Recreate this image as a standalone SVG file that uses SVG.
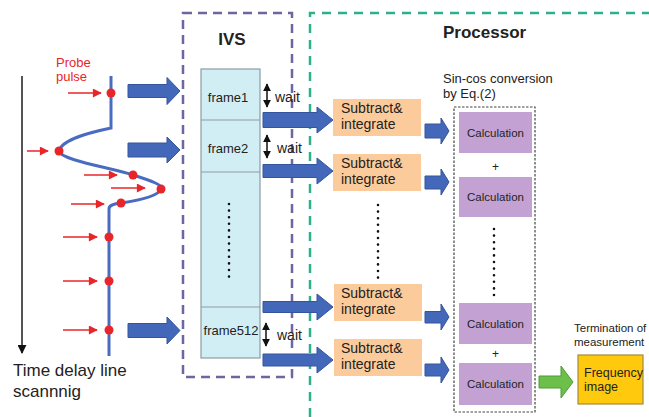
<svg xmlns="http://www.w3.org/2000/svg" width="649" height="417" viewBox="0 0 649 417">
  <defs>
    <style>
      text { font-family: "Liberation Sans", Arial, sans-serif; fill: #222; }
      .bold { font-weight: bold; }
      .blk { fill: #4468b9; stroke: #35549e; stroke-width: 1; }
      .grn { fill: #6cc04a; stroke: #4f9a3a; stroke-width: 1; }
      .red { stroke: #e8262a; stroke-width: 1.5; fill: none; }
      .dot { fill: #e8262a; }
      .sub { fill: #fccb9b; }
      .calc { fill: #c3a2d3; }
      .dots { stroke: #111; stroke-width: 2.6; stroke-linecap: round; stroke-dasharray: 0 6.6; fill: none; }
      .wait { stroke: #111; stroke-width: 1.5; fill: none; }
    </style>
    <marker id="redHead" viewBox="0 0 10 10" refX="9" refY="5" markerWidth="7" markerHeight="7" markerUnits="userSpaceOnUse" orient="auto">
      <path d="M0,0 L10,5 L0,10 Z" fill="#e8262a"/>
    </marker>
    <marker id="redHeadL" viewBox="0 0 10 10" refX="9" refY="5" markerWidth="10" markerHeight="9" markerUnits="userSpaceOnUse" orient="auto">
      <path d="M0,0 L10,5 L0,10 Z" fill="#e8262a"/>
    </marker>
    <marker id="blkHead" viewBox="0 0 10 10" refX="9" refY="5" markerWidth="8" markerHeight="8" markerUnits="userSpaceOnUse" orient="auto">
      <path d="M0,0 L10,5 L0,10 Z" fill="#111"/>
    </marker>
    <marker id="timeHead" viewBox="0 0 10 10" refX="9" refY="5" markerWidth="9" markerHeight="9" markerUnits="userSpaceOnUse" orient="auto">
      <path d="M0,0 L10,5 L0,10 Z" fill="#111"/>
    </marker>
  </defs>

  <rect width="649" height="417" fill="#ffffff"/>

  <!-- enclosing dashed regions -->
  <g id="ivs-region">
    <path d="M183,13 H292 V377 H183 Z" fill="none" stroke="#6e66a0" stroke-width="2.5" stroke-dasharray="9 6"/>
    <text class="bold" x="232" y="45" font-size="17" text-anchor="middle">IVS</text>
  </g>
  <g id="processor-region">
    <path d="M310,417 V13 H649" fill="none" stroke="#2fb08a" stroke-width="2.5" stroke-dasharray="9 7"/>
    <text class="bold" x="443" y="38" font-size="17">Processor</text>
  </g>

  <!-- time axis and labels -->
  <g id="time-axis">
    <line x1="22" y1="76" x2="22" y2="353" stroke="#555" stroke-width="2" marker-end="url(#timeHead)"/>
    <text x="13" y="376" font-size="17">Time delay line</text>
    <text x="13" y="397" font-size="17">scannnig</text>
  </g>

  <!-- probed waveform -->
  <g id="waveform">
    <text x="56" y="67" font-size="13" style="fill:#e8262a">Probe</text>
    <text x="56" y="81" font-size="13" style="fill:#e8262a">pulse</text>
    <path d="M111,76 V128 C92,132 62,139 59,151 C60,160 112,168 133,175 C152,181 163,185 161,189 C158,197 135,201 121,203 C111,204 109,206 109,209 V356" fill="none" stroke="#4a6cc0" stroke-width="3"/>
    <circle class="dot" cx="111" cy="93" r="4.5"/>
    <circle class="dot" cx="59" cy="151" r="4.5"/>
    <circle class="dot" cx="133" cy="175" r="4.5"/>
    <circle class="dot" cx="161" cy="189" r="4.5"/>
    <circle class="dot" cx="121" cy="203" r="4.5"/>
    <circle class="dot" cx="109" cy="237" r="4.5"/>
    <circle class="dot" cx="109" cy="281" r="4.5"/>
    <circle class="dot" cx="109" cy="330" r="4.5"/>
  </g>

  <!-- frame buffer column -->
  <g id="frames">
    <rect x="201" y="69" width="59" height="289" fill="#d2eef5" stroke="#8d9ca2" stroke-width="1.2"/>
    <line x1="201" y1="120" x2="260" y2="120" stroke="#8d9ca2" stroke-width="1.2"/>
    <line x1="201" y1="172" x2="260" y2="172" stroke="#8d9ca2" stroke-width="1.2"/>
    <line x1="201" y1="307" x2="260" y2="307" stroke="#8d9ca2" stroke-width="1.2"/>
    <text x="228" y="102" font-size="13" text-anchor="middle">frame1</text>
    <text x="228" y="153" font-size="13" text-anchor="middle">frame2</text>
    <text x="231" y="335" font-size="13" text-anchor="middle">frame512</text>
    <line class="dots" x1="229" y1="204" x2="229" y2="277"/>
  </g>

  <!-- wait markers -->
  <g id="waits">
    <line class="wait" x1="267" y1="95" x2="267" y2="84" marker-end="url(#blkHead)"/>
    <line class="wait" x1="267" y1="95" x2="267" y2="107" marker-end="url(#blkHead)"/>
    <text x="275" y="102" font-size="14">wait</text>
    <line class="wait" x1="267" y1="146" x2="267" y2="135" marker-end="url(#blkHead)"/>
    <line class="wait" x1="267" y1="146" x2="267" y2="158" marker-end="url(#blkHead)"/>
    <text x="277" y="153" font-size="14">wait</text>
    <line class="wait" x1="266" y1="334" x2="266" y2="323" marker-end="url(#blkHead)"/>
    <line class="wait" x1="266" y1="334" x2="266" y2="346" marker-end="url(#blkHead)"/>
    <text x="277" y="340" font-size="14">wait</text>
  </g>

  <!-- subtract & integrate stages -->
  <g id="subtract-1">
    <rect class="sub" x="333" y="99" width="88" height="37"/>
    <text x="341" y="113" font-size="14">Subtract&amp;</text>
    <text x="341" y="129" font-size="14">integrate</text>
  </g>
  <g id="subtract-2">
    <rect class="sub" x="333" y="154" width="88" height="37"/>
    <text x="341" y="168" font-size="14">Subtract&amp;</text>
    <text x="341" y="184" font-size="14">integrate</text>
  </g>
  <line class="dots" x1="378" y1="205" x2="378" y2="278"/>
  <g id="subtract-3">
    <rect class="sub" x="334" y="284" width="88" height="37"/>
    <text x="341" y="298" font-size="14">Subtract&amp;</text>
    <text x="341" y="314" font-size="14">integrate</text>
  </g>
  <g id="subtract-4">
    <rect class="sub" x="334" y="339" width="88" height="37"/>
    <text x="341" y="353" font-size="14">Subtract&amp;</text>
    <text x="341" y="369" font-size="14">integrate</text>
  </g>

  <!-- sin-cos conversion block -->
  <g id="sincos">
    <text x="443" y="83" font-size="13">Sin-cos conversion</text>
    <text x="443" y="98" font-size="13">by Eq.(2)</text>
    <rect x="454" y="107" width="81" height="305" fill="none" stroke="#444" stroke-width="1.2" stroke-dasharray="2.5 1.5"/>
  </g>
  <g id="calc-1">
    <rect class="calc" x="459" y="112" width="73" height="41"/>
    <text x="495.5" y="137" font-size="11.5" text-anchor="middle">Calculation</text>
  </g>
  <text x="495.5" y="171" font-size="12" text-anchor="middle">+</text>
  <g id="calc-2">
    <rect class="calc" x="459" y="177" width="73" height="40"/>
    <text x="495.5" y="201" font-size="11.5" text-anchor="middle">Calculation</text>
  </g>
  <line class="dots" x1="494" y1="229" x2="494" y2="300"/>
  <g id="calc-3">
    <rect class="calc" x="459" y="303" width="73" height="41"/>
    <text x="495.5" y="328" font-size="11.5" text-anchor="middle">Calculation</text>
  </g>
  <text x="495.5" y="358" font-size="12" text-anchor="middle">+</text>
  <g id="calc-4">
    <rect class="calc" x="459" y="363" width="73" height="42"/>
    <text x="495.5" y="388" font-size="11.5" text-anchor="middle">Calculation</text>
  </g>

  <!-- output -->
  <g id="frequency-image">
    <text x="574" y="332" font-size="11.5">Termination of</text>
    <text x="574" y="346" font-size="11.5">measurement</text>
    <rect x="578" y="355" width="65" height="49" fill="#ffc90e" stroke="#a68a3a" stroke-width="1.2"/>
    <text x="584" y="377" font-size="12.5">Frequency</text>
    <text x="584" y="391" font-size="12.5">image</text>
  </g>

  <!-- connectors -->
  <g id="connectors">
    <!-- probe pulses -->
    <line class="red" x1="68" y1="93" x2="101" y2="93" marker-end="url(#redHeadL)"/>
    <line class="red" x1="27" y1="151" x2="48" y2="151" marker-end="url(#redHeadL)"/>
    <line class="red" x1="84" y1="175" x2="117" y2="175" marker-end="url(#redHeadL)"/>
    <line class="red" x1="111" y1="188" x2="145" y2="188" marker-end="url(#redHeadL)"/>
    <line class="red" x1="71" y1="204" x2="104" y2="204" marker-end="url(#redHeadL)"/>
    <line class="red" x1="63" y1="237" x2="97" y2="237" marker-end="url(#redHeadL)"/>
    <line class="red" x1="63" y1="281" x2="97" y2="281" marker-end="url(#redHeadL)"/>
    <line class="red" x1="63" y1="330" x2="97" y2="330" marker-end="url(#redHeadL)"/>

    <!-- waveform to IVS -->
    <path class="blk" d="M128,84.5 H167 V77.5 L180,91 L167,104.5 V97.5 H128 Z"/>
    <path class="blk" d="M128,143 H167 V137 L180,150 L167,163 V157 H128 Z"/>
    <path class="blk" d="M128,323.5 H167 V317 L180,330.5 L167,344 V337.5 H128 Z"/>

    <!-- IVS frames to subtract stages -->
    <path class="blk" d="M263,112.5 H317 V107 L333,120 L317,133 V127.5 H263 Z"/>
    <path class="blk" d="M263,164.5 H317 V158 L333,171 L317,184 V177.5 H263 Z"/>
    <path class="blk" d="M263,301.5 H317 V294 L333,307 L317,320 V312.5 H263 Z"/>
    <path class="blk" d="M263,354 H317 V347 L333,360 L317,373 V366 H263 Z"/>

    <!-- subtract stages to calculation -->
    <path class="blk" d="M425,124 H441 V118 L449,131 L441,144 V138 H425 Z"/>
    <path class="blk" d="M425,176 H441 V169 L449,182 L441,195 V189 H425 Z"/>
    <path class="blk" d="M425,311.5 H441 V304 L449,317 L441,330 V323 H425 Z"/>
    <path class="blk" d="M425,364 H441 V357 L449,370 L441,383 V376 H425 Z"/>

    <!-- calculation to frequency image -->
    <path class="grn" d="M539,376 H561 V366 L573,382 L561,398 V388 H539 Z"/>
  </g>
</svg>
